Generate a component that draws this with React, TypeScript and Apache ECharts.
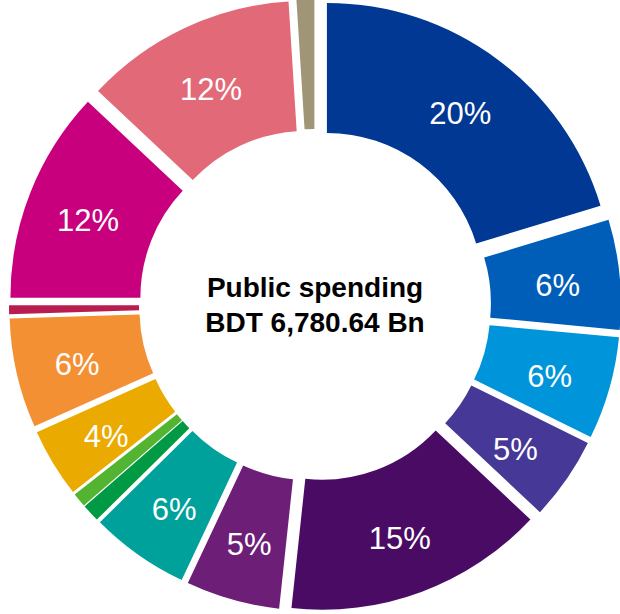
import React, { useEffect, useRef } from "react";
import * as echarts from "echarts";

const categories = [
  "Sector 1", "Sector 2", "Sector 3", "Sector 4", "Sector 5",
  "Sector 6", "Sector 7", "Sector 8", "Sector 9", "Sector 10",
  "Sector 11", "Sector 12", "Sector 13", "Sector 14", "Sector 15",
];
const shares = [20.3, 6.2, 5.8, 4.7, 14.7, 5.3, 5.6, 1.0, 0.8, 3.9, 6.2, 0.5, 12.0, 12.0, 1.0];
const colors = [
  "#003893", "#005EB8", "#0095DA", "#463897", "#490B64",
  "#6D1F78", "#00A19B", "#009A44", "#52B431", "#EBAA00",
  "#F39033", "#B91D4F", "#C8007E", "#E26A78", "#A09677",
];
const centerTitle = "Public spending\nBDT 6,780.64 Bn";

export default function App() {
  const ref = useRef<HTMLDivElement>(null);
  useEffect(() => {
    if (!ref.current) return;
    const chart = echarts.init(ref.current, null, { renderer: "svg" });
    chart.setOption({
      animation: false,
      series: [
        {
          type: "pie",
          center: [315, 305],
          radius: [156, 286],
          startAngle: 90,
          clockwise: true,
          selectedMode: "multiple",
          selectedOffset: 20,
          avoidLabelOverlap: false,
          emphasis: { disabled: true },
          select: { itemStyle: { borderWidth: 0 }, label: { show: true } },
          itemStyle: { borderWidth: 0 },
          label: {
            show: true,
            position: "inside",
            color: "#ffffff",
            fontSize: 31,
            fontFamily: "Liberation Sans, Arial, sans-serif",
            formatter: (p: any) => (p.value >= 2 ? `${Math.round(p.percent)}%` : ""),
          },
          labelLayout: { dy: 5 },
          labelLine: { show: false },
          data: categories.map((name, i) => ({
            name,
            value: shares[i],
            selected: true,
            itemStyle: { color: colors[i] },
          })),
        },
      ],
      graphic: [
        {
          type: "text",
          x: 315,
          y: 305,
          style: {
            text: centerTitle,
            textAlign: "center",
            textVerticalAlign: "middle",
            fontSize: 28,
            lineHeight: 35,
            fontWeight: "bold",
            fontFamily: "Liberation Sans, Arial, sans-serif",
            fill: "#000000",
          },
        },
      ],
    });
    return () => chart.dispose();
  }, []);
  return (
    <div
      ref={ref}
      style={{ position: "fixed", left: 0, top: 0, width: 620, height: 614, background: "#ffffff" }}
    />
  );
}
